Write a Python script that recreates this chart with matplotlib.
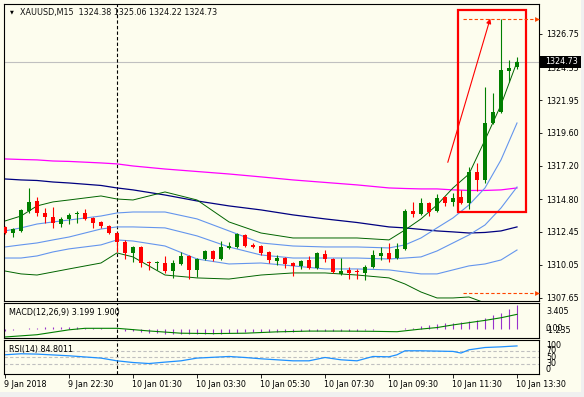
import numpy as np
import matplotlib
matplotlib.use("Agg")
import matplotlib.pyplot as plt
import matplotlib.transforms as mtransforms
from matplotlib.patches import Rectangle

W, H, DPI = 584, 397, 100
BG = "#fdfdee"
GREEN = "#007f00"
RED = "#ff0000"
FS = 5.8

# ---------------------------------------------------------------- data
# XAUUSD M15 bars, index 0 = 9 Jan 2018 ... index 64 = 10 Jan 13:30
opens = [1312.79, 1312.35, 1312.50, 1313.95, 1314.67, 1313.80, 1313.51, 1313.00, 1313.37, 1313.73,
         1313.80, 1313.44, 1313.15, 1312.86, 1312.35, 1311.70, 1310.91, 1311.34, 1310.22, 1310.15,
         1310.18, 1309.60, 1310.11, 1310.69, 1309.68, 1310.47, 1311.05, 1310.47, 1311.27, 1311.34,
         1312.21, 1311.49, 1311.41, 1310.98, 1310.33, 1310.54, 1310.18, 1309.97, 1310.40, 1309.82,
         1310.83, 1310.47, 1309.39, 1309.68, 1309.57, 1309.46, 1309.89, 1310.69, 1310.91, 1310.54,
         1311.20, 1313.95, 1313.73, 1314.52, 1313.95, 1314.96, 1314.60, 1314.96, 1314.52, 1316.77,
         1316.19, 1320.31, 1321.11, 1324.08, 1324.38]
highs = [1312.86, 1312.72, 1314.09, 1315.61, 1314.96, 1314.16, 1314.24, 1313.51, 1313.80, 1313.95,
         1314.09, 1313.51, 1313.22, 1312.93, 1312.43, 1311.85, 1311.41, 1311.41, 1310.33, 1310.33,
         1310.69, 1310.40, 1310.98, 1310.76, 1310.54, 1311.12, 1311.12, 1311.77, 1311.70, 1312.35,
         1312.28, 1311.63, 1311.49, 1311.05, 1310.76, 1310.62, 1310.26, 1310.40, 1310.69, 1310.98,
         1311.12, 1310.54, 1310.54, 1309.89, 1309.75, 1310.04, 1311.12, 1311.34, 1311.63, 1311.63,
         1314.09, 1314.60, 1314.89, 1314.60, 1315.18, 1315.03, 1315.25, 1315.47, 1317.13, 1317.42,
         1322.92, 1322.48, 1327.84, 1324.87, 1325.06]
lows = [1312.28, 1312.06, 1312.43, 1313.80, 1313.58, 1313.08, 1312.72, 1312.79, 1313.00, 1313.08,
        1313.29, 1312.72, 1312.72, 1312.28, 1310.98, 1310.47, 1310.26, 1309.89, 1309.68, 1309.68,
        1309.46, 1309.10, 1310.04, 1309.02, 1309.17, 1310.40, 1310.33, 1310.40, 1311.20, 1311.27,
        1311.34, 1311.27, 1310.76, 1310.18, 1310.04, 1309.82, 1309.24, 1309.75, 1309.75, 1309.75,
        1310.26, 1309.46, 1309.31, 1309.02, 1309.02, 1308.95, 1309.82, 1310.40, 1310.26, 1310.47,
        1311.12, 1313.51, 1313.66, 1313.58, 1313.87, 1314.31, 1314.31, 1314.45, 1314.09, 1315.39,
        1315.97, 1320.24, 1321.04, 1323.28, 1324.22]
closes = [1312.35, 1312.64, 1314.02, 1314.60, 1313.80, 1313.51, 1313.08, 1313.37, 1313.66, 1313.80,
          1313.37, 1313.08, 1312.86, 1312.35, 1311.70, 1310.91, 1311.34, 1310.18, 1310.15, 1310.22,
          1309.60, 1310.18, 1310.69, 1309.68, 1310.47, 1311.05, 1310.47, 1311.34, 1311.41, 1312.28,
          1311.41, 1311.34, 1310.91, 1310.40, 1310.54, 1310.11, 1309.97, 1310.33, 1309.82, 1310.91,
          1310.47, 1309.53, 1309.60, 1309.46, 1309.50, 1309.89, 1310.76, 1310.91, 1310.47, 1311.20,
          1313.95, 1313.73, 1314.52, 1313.87, 1314.89, 1314.52, 1314.89, 1314.52, 1316.77, 1316.19,
          1320.31, 1321.11, 1324.15, 1324.29, 1324.73]

# indicator lines on the price chart, sampled at these bar indices
line_idx = [0, 2, 4, 6, 8, 12, 14, 16, 20, 24, 28, 32, 36, 40, 44, 48, 50, 52, 54, 56, 58, 60, 62, 64]
ma_magenta = [1317.71, 1317.67, 1317.64, 1317.56, 1317.53, 1317.42, 1317.35, 1317.20, 1316.98, 1316.80,
              1316.62, 1316.41, 1316.19, 1316.01, 1315.83, 1315.61, 1315.57, 1315.54, 1315.54, 1315.47,
              1315.43, 1315.43, 1315.47, 1315.61]
ma_navy = [1316.26, 1316.19, 1316.15, 1316.04, 1315.97, 1315.79, 1315.61, 1315.47, 1315.10, 1314.67,
           1314.31, 1314.02, 1313.66, 1313.37, 1313.11, 1312.79, 1312.72, 1312.61, 1312.50, 1312.43,
           1312.35, 1312.39, 1312.50, 1312.79]
band_green_up = [1313.22, 1313.58, 1314.31, 1314.60, 1314.74, 1315.03, 1314.81, 1314.74, 1315.32, 1314.74,
                 1313.15, 1312.35, 1311.99, 1311.99, 1311.99, 1311.85, 1312.57, 1313.37, 1314.38, 1315.61,
                 1316.62, 1319.08, 1321.62, 1324.73]
band_green_lo = [1309.60, 1309.39, 1309.31, 1309.53, 1309.75, 1310.18, 1310.91, 1310.62, 1309.31, 1309.10,
                 1309.02, 1309.31, 1309.46, 1309.46, 1309.31, 1309.10, 1308.66, 1308.08, 1307.65, 1307.65,
                 1307.72, 1307.29, np.nan, np.nan]
band_blue_up = [1312.50, 1312.72, 1313.00, 1313.15, 1313.29, 1313.58, 1313.80, 1313.87, 1313.87, 1313.37,
                1312.50, 1311.63, 1311.41, 1311.34, 1311.34, 1311.27, 1311.49, 1311.99, 1312.72, 1313.44,
                1314.38, 1315.61, 1317.64, 1320.31]
band_blue_mid = [1311.34, 1311.49, 1311.63, 1311.85, 1312.06, 1312.64, 1312.79, 1312.79, 1312.72, 1312.14,
                 1311.34, 1310.76, 1310.54, 1310.54, 1310.54, 1310.47, 1310.54, 1310.62, 1311.05, 1311.63,
                 1312.21, 1312.93, 1314.16, 1315.68]
band_blue_lo = [1310.54, 1310.54, 1310.69, 1310.98, 1311.20, 1311.49, 1311.85, 1311.77, 1311.41, 1310.47,
                1310.11, 1310.18, 1309.97, 1309.75, 1309.75, 1309.68, 1309.53, 1309.39, 1309.39, 1309.68,
                1309.97, 1310.11, 1310.40, 1311.12]

# MACD(12,26,9): main histogram per bar, signal sampled
macd_main = [-0.25, -0.2, -0.1, 0.05, 0.15, 0.2, 0.2, 0.2, 0.2, 0.2,
             0.15, 0.1, 0.05, 0.0, -0.1, -0.25, -0.35, -0.45, -0.55, -0.6,
             -0.65, -0.7, -0.7, -0.72, -0.72, -0.7, -0.68, -0.65, -0.6, -0.55,
             -0.5, -0.5, -0.5, -0.5, -0.5, -0.5, -0.4, -0.35, -0.35, -0.3,
             -0.3, -0.3, -0.3, -0.3, -0.25, -0.2, -0.15, -0.1, -0.05, 0.0,
             0.05, 0.15, 0.3, 0.45, 0.6, 0.7, 0.78, 0.85, 1.0, 1.15,
             1.4, 1.8, 2.1, 2.6, 3.199]
signal_idx = [0, 4, 8, 10, 14, 18, 22, 26, 30, 34, 38, 42, 46, 49, 52, 54, 56, 58, 60, 62, 64]
macd_signal = [-1.1, -0.8, -0.15, 0.05, 0.05, -0.3, -0.6, -0.65, -0.6, -0.42, -0.32, -0.32, -0.35, -0.4,
               -0.05, 0.15, 0.5, 0.8, 1.1, 1.45, 1.9]

# RSI(14)
rsi_idx = [0, 2, 4, 8, 12, 14, 16, 18, 20, 22, 24, 28, 30, 32, 34, 36, 38, 40, 42, 44, 46, 48, 49,
           50, 52, 56, 57, 58, 60, 62, 63, 64]
rsi_vals = [57.7, 60.8, 59.8, 54.6, 47.5, 39.2, 34.0, 30.9, 35.2, 39.2, 47.5, 52.5, 49.4, 45.4, 42.3, 39.2,
            39.2, 49.4, 42.3, 39.2, 52.5, 51.5, 57.7, 70.0, 70.0, 68.0, 63.0, 73.0, 80.0, 82.0, 83.5, 84.8]
rsi_levels = [30, 50, 70]

price_ticks = [1326.75, 1324.35, 1321.95, 1319.60, 1317.20, 1314.80, 1312.45, 1310.05, 1307.65]
time_ticks = [0, 8, 16, 24, 32, 40, 48, 56, 64]
time_labels = ["9 Jan 2018", "9 Jan 22:30", "10 Jan 01:30", "10 Jan 03:30", "10 Jan 05:30",
               "10 Jan 07:30", "10 Jan 09:30", "10 Jan 11:30", "10 Jan 13:30"]
separator_bar = 14
last_price = 1324.73

# drawn objects (bar index, price)
box_x, box_y = (56.6, 65.1), (1313.87, 1328.49)
trend_from, trend_to = (55.25, 1317.27), (60.75, 1328.06)
marker_x = (57.25, 66.5)
marker_hi, marker_lo = 1327.84, 1308.01

# ---------------------------------------------------------------- layout
plt.rcParams["font.family"] = "DejaVu Sans"
fig = plt.figure(figsize=(W / DPI, H / DPI), dpi=DPI, facecolor=BG)


def px_axes(left, top, right, bottom):
    a = fig.add_axes([left / W, 1 - bottom / H, (right - left) / W, (bottom - top) / H])
    a.set_facecolor(BG)
    for s in a.spines.values():
        s.set_linewidth(0.8)
        s.set_color("black")
    a.set_xlim(-0.125, 66.75)
    a.tick_params(axis="x", bottom=False, labelbottom=False)
    a.tick_params(axis="y", left=False, labelleft=False, right=True, labelright=True,
                  direction="out", length=2.5, width=0.6, pad=2.5, labelsize=FS)
    a.axvline(separator_bar, color="black", lw=0.8, ls=(0, (3, 2)), zorder=1)
    return a


ax = px_axes(4, 4, 539, 301)
axm = px_axes(4, 303, 539, 338)
axr = px_axes(4, 340, 539, 374)

# ---------------------------------------------------------------- price panel
x = np.arange(len(opens))
o, h, l, c = map(np.asarray, (opens, highs, lows, closes))
col = np.where(c >= o, GREEN, RED)
ax.axhline(last_price, color="#c0c0c0", lw=0.8, zorder=0.5)
ax.plot(line_idx, ma_magenta, color="#ff00ff", lw=0.9)
ax.plot(line_idx, ma_navy, color="#000080", lw=0.9)
ax.plot(line_idx, band_green_up, color="#006400", lw=0.7)
ax.plot(line_idx, band_green_lo, color="#006400", lw=0.7)
for band in (band_blue_up, band_blue_mid, band_blue_lo):
    ax.plot(line_idx, band, color="#6495ed", lw=0.8)
ax.vlines(x, l, h, colors=col, lw=0.8, zorder=3)
ax.bar(x, np.maximum(np.abs(c - o), 0.07), bottom=np.minimum(o, c), width=0.62,
       color=col, linewidth=0, zorder=3)

ax.add_patch(Rectangle((box_x[0], box_y[0]), box_x[1] - box_x[0], box_y[1] - box_y[0],
                       fill=False, edgecolor=RED, lw=1.6, zorder=4))
ax.annotate("", xy=trend_to, xytext=trend_from,
            arrowprops=dict(arrowstyle="-|>", color=RED, lw=0.8, mutation_scale=7), zorder=4)
for yv in (marker_hi, marker_lo):
    ax.plot(marker_x, [yv, yv], color="#ff4500", lw=0.8, ls=(0, (3, 2)), zorder=4)
    ax.plot(marker_x[1], yv, marker=">", ms=3.5, color="#ff4500", mec="none", zorder=4)

ax.set_ylim(1307.43, 1328.92)
ax.set_yticks(price_ticks)
ax.set_yticklabels([f"{v:.2f}" for v in price_ticks])

bt = mtransforms.blended_transform_factory(ax.transAxes, ax.transData)
ax.add_patch(Rectangle((1.002, last_price - 0.43), (582 - 540) / 535, 0.86, transform=bt,
                       facecolor="black", edgecolor="none", clip_on=False, zorder=5))
ax.text(1.002 + 21 / 535, last_price, f"{last_price:.2f}", transform=bt, color="white",
        fontsize=FS, ha="center", va="center", zorder=6, clip_on=False)
ax.text(0.015, 0.973, "\u25bc", transform=ax.transAxes, fontsize=3.6, ha="center", va="center")
ax.text(0.0299, 0.973, "XAUUSD,M15  1324.38 1325.06 1324.22 1324.73", transform=ax.transAxes,
        fontsize=FS, ha="left", va="center", color="#101010")

# ---------------------------------------------------------------- MACD panel
axm.vlines(x, 0, macd_main, colors="#9932cc", lw=0.8)
axm.plot(signal_idx, macd_signal, color=GREEN, lw=0.8)
axm.set_ylim(-1.235, 3.405)
axm.set_yticks([])
mt = mtransforms.blended_transform_factory(axm.transAxes, axm.transData)
off = mtransforms.ScaledTranslation
axm.text(1.013, 3.405, "3.405", transform=mt + off(0, -4 / DPI, fig.dpi_scale_trans),
         fontsize=FS, va="top", ha="left")
axm.text(1.013, 0, "0.00", transform=mt, fontsize=FS, va="center", ha="left")
axm.text(1.013, -1.235, "-1.235", transform=mt + off(0, 3 / DPI, fig.dpi_scale_trans),
         fontsize=FS, va="bottom", ha="left")
axm.text(0.0093, 0.74, "MACD(12,26,9) 3.199 1.900", transform=axm.transAxes, fontsize=FS,
         ha="left", va="center")

# ---------------------------------------------------------------- RSI panel
for lv in rsi_levels:
    axr.axhline(lv, color="#c0c0c0", lw=0.8, ls=(0, (3, 2)), zorder=1)
axr.plot(rsi_idx, rsi_vals, color="#1e90ff", lw=0.9)
axr.set_ylim(-1.2, 103)
axr.set_yticks([])
rt = mtransforms.blended_transform_factory(axr.transAxes, axr.transData)
for v, va in [(100, "top"), (70, "center"), (50, "center"), (30, "center"), (0, "bottom")]:
    axr.text(1.013, v, str(v), transform=rt, fontsize=FS, va=va, ha="left")
axr.text(0.0093, 0.735, "RSI(14) 84.8011", transform=axr.transAxes, fontsize=FS,
         ha="left", va="center")

axr.tick_params(axis="x", bottom=True, labelbottom=True, direction="out", length=3,
                width=0.6, pad=1.5, labelsize=FS)
axr.set_xticks(time_ticks)
axr.set_xticklabels(time_labels, ha="left")
for lab in axr.get_xticklabels():
    lab.set_transform(lab.get_transform() + off(-1.5 / DPI, 0, fig.dpi_scale_trans))

# window frame
fig.patches.append(Rectangle((0, 0), 1, 5 / H, transform=fig.transFigure,
                             facecolor="#f0f0f0", edgecolor="none"))
fig.patches.append(Rectangle((581 / W, 0), 3 / W, 1, transform=fig.transFigure,
                             facecolor="#f0f0f0", edgecolor="none"))

fig.savefig("out.png", dpi=DPI, facecolor=BG)
